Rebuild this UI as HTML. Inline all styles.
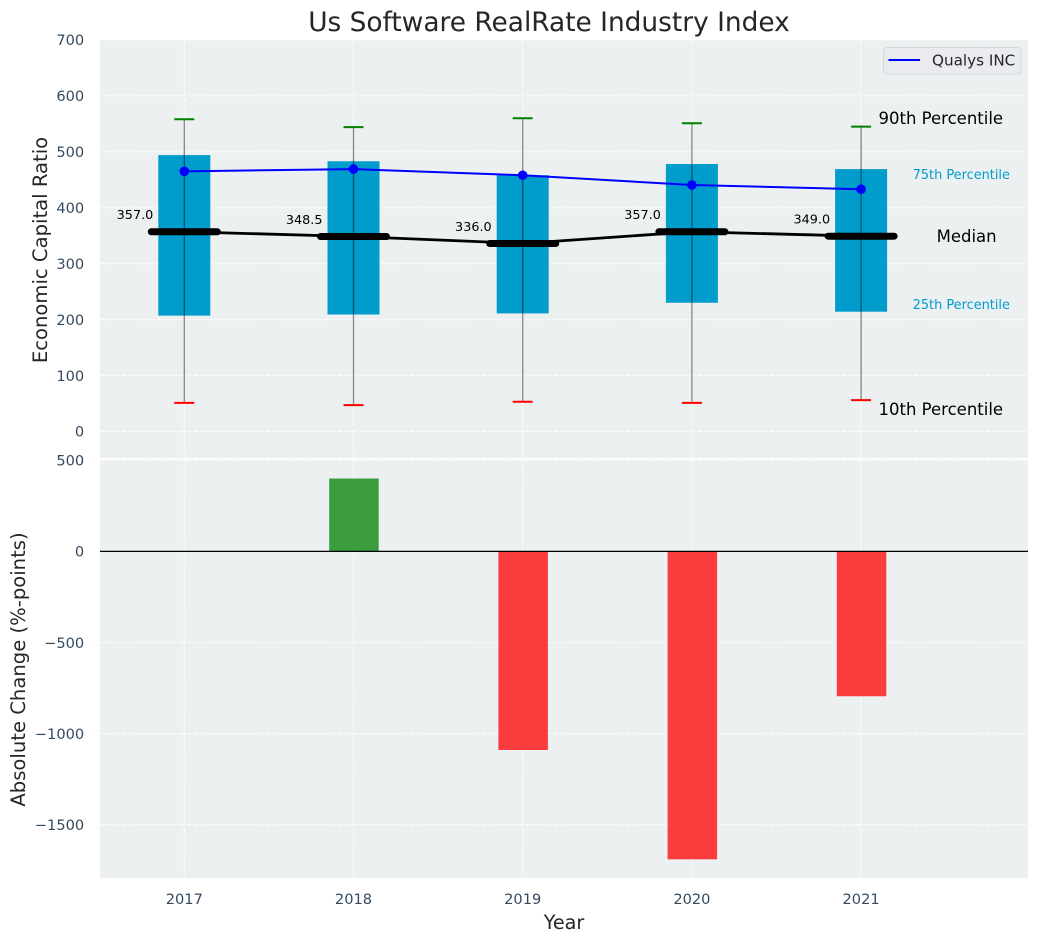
<!DOCTYPE html>
<html lang="en">
<head>
<meta charset="utf-8">
<title>Us Software RealRate Industry Index</title>
<style>
html,body{margin:0;padding:0;background:#fff;}
svg{display:block;font-family:"DejaVu Sans","Liberation Sans",sans-serif;}
</style>
</head>
<body>
<svg id="chart" xmlns="http://www.w3.org/2000/svg" width="1039" height="942" viewBox="0 0 1039 942"></svg>
<script>
const years = [2017, 2018, 2019, 2020, 2021];
const p90 = [558, 544, 560, 551, 545];
const p75 = [494, 483, 458, 478, 469];
const medians = [357, 348.5, 336, 357, 349];
const p25 = [207, 209, 211, 230, 214];
const p10 = [51, 47, 53, 51, 56];
const qualys = [465, 469, 458, 440.5, 433];
const changes = [0, 400, -1090, -1690, -795];
const topTicks = [0, 100, 200, 300, 400, 500, 600, 700];
const bottomTicks = [-1500, -1000, -500, 0, 500];

const svg = document.getElementById('chart');
const NS = 'http://www.w3.org/2000/svg';
function add(tag, attrs, text, parent) {
  const el = document.createElementNS(NS, tag);
  for (const k in attrs) el.setAttribute(k, attrs[k]);
  if (text !== undefined) el.textContent = text;
  (parent || svg).appendChild(el);
  return el;
}
const L = 100, R = 1028, TT = 40, TB = 458, BT = 459.5, BB = 878;
const x = v => 184.3 + (v - 2017) * 169.2;
const yT = v => 431.4 - v * 0.5593;
const yB = v => 551.4 - v * 0.1822;
const tickColor = '#34495e';
const inkColor = '#262626';
const boxColor = '#009ccc';

/* panels */
const topPanel = add('rect', {x: L, y: TT, width: R - L, height: TB - TT, fill: '#ecf0f1'});


const bottomPanel = add('rect', {x: L, y: BT, width: R - L, height: BB - BT, fill: '#ecf0f1'});



/* grid */
const gridStyle = {stroke: '#fff', 'stroke-width': 1.1, 'stroke-dasharray': '5 2.2', opacity: 0.8};
topTicks.forEach(t => {
  const g = add('line', Object.assign({x1: L, x2: R, y1: yT(t), y2: yT(t)}, gridStyle));
  
  
});
bottomTicks.forEach(t => {
  const g = add('line', Object.assign({x1: L, x2: R, y1: yB(t), y2: yB(t)}, gridStyle));
  
  
});
years.forEach(yr => {
  const g1 = add('line', Object.assign({x1: x(yr), x2: x(yr), y1: TT, y2: TB}, gridStyle));
  
  
  const g2 = add('line', Object.assign({x1: x(yr), x2: x(yr), y1: BT, y2: BB}, gridStyle));
  
  
});

/* boxes */
years.forEach((yr, i) => {
  const b = add('rect', {x: x(yr) - 26, y: yT(p75[i]), width: 52, height: yT(p25[i]) - yT(p75[i]), fill: boxColor});
  
  
});

/* median line */
const medLine = add('polyline', {points: years.map((yr, i) => x(yr) + ',' + yT(medians[i])).join(' '), fill: 'none', stroke: '#000', 'stroke-width': 2.8});


years.forEach((yr, i) => {
  const m = add('line', {x1: x(yr) - 33, x2: x(yr) + 33, y1: yT(medians[i]), y2: yT(medians[i]), stroke: '#000', 'stroke-width': 7, 'stroke-linecap': 'round'});
  
  
  const t = add('text', {x: x(yr) - 31, y: yT(medians[i]) - 12.5, 'text-anchor': 'end', 'font-size': 12.8, fill: '#000'}, medians[i].toFixed(1));
  
  
});

/* whiskers */
years.forEach((yr, i) => {
  const w = add('line', {x1: x(yr), x2: x(yr), y1: yT(p90[i]), y2: yT(p10[i]), stroke: '#000', 'stroke-width': 1.3, opacity: 0.45});
  
  
  const c1 = add('line', {x1: x(yr) - 10, x2: x(yr) + 10, y1: yT(p90[i]), y2: yT(p90[i]), stroke: 'green', 'stroke-width': 2});
  
  
  const c2 = add('line', {x1: x(yr) - 10, x2: x(yr) + 10, y1: yT(p10[i]), y2: yT(p10[i]), stroke: 'red', 'stroke-width': 2});
  
  
});

/* Qualys line */
const qLine = add('polyline', {points: years.map((yr, i) => x(yr) + ',' + yT(qualys[i])).join(' '), fill: 'none', stroke: '#0000ff', 'stroke-width': 2});


years.forEach((yr, i) => {
  const p = add('circle', {cx: x(yr), cy: yT(qualys[i]), r: 4.8, fill: '#0000ff'});
  
  
});

/* percentile annotations anchored to the last year */
const last = years.length - 1;
const lx = x(years[last]);
function note(label, cx, cy, size, color, name) {
  const t = add('text', {x: cx, y: cy, 'text-anchor': 'middle', 'dominant-baseline': 'central', 'font-size': size, fill: color}, label);
  
  
}
note('90th Percentile', lx + 79.7, yT(p90[last]) - 8, 16.5, '#000', 'label-90th-percentile');
note('75th Percentile', lx + 100.2, yT(p75[last]) + 6.5, 12.9, boxColor, 'label-75th-percentile');
note('Median', lx + 105.5, yT(medians[last]) + 0.5, 16.5, '#000', 'label-median');
note('25th Percentile', lx + 100.2, yT(p25[last]) - 6, 12.9, boxColor, 'label-25th-percentile');
note('10th Percentile', lx + 79.7, yT(p10[last]) + 9.5, 16.5, '#000', 'label-10th-percentile');

/* change bars */
years.forEach((yr, i) => {
  const v = changes[i];
  if (v === 0) return;
  const b = add('rect', {x: x(yr) - 24.3, y: Math.min(yB(v), yB(0)), width: 49.5, height: Math.abs(yB(v) - yB(0)), fill: v > 0 ? 'green' : 'red', opacity: 0.75});
  
  
});
const zero = add('line', {x1: L, x2: R, y1: yB(0), y2: yB(0), stroke: '#000', 'stroke-width': 1.3});



/* tick labels */
topTicks.forEach(t => {
  const l = add('text', {x: 84.2, y: yT(t) + 0.8, 'text-anchor': 'end', 'dominant-baseline': 'central', 'font-size': 14.6, fill: tickColor}, String(t));
  
  
});
bottomTicks.forEach(t => {
  const s = t < 0 ? '\u2212' + Math.abs(t) : String(t);
  const l = add('text', {x: 84.2, y: yB(t) + 0.8, 'text-anchor': 'end', 'dominant-baseline': 'central', 'font-size': 14.6, fill: tickColor}, s);
  
  
});
years.forEach(yr => {
  const l = add('text', {x: x(yr), y: 904, 'text-anchor': 'middle', 'font-size': 14.6, fill: tickColor}, String(yr));
  
  
});

/* titles */
const title = add('text', {x: 549, y: 31, 'text-anchor': 'middle', 'font-size': 26.4, fill: inkColor}, 'Us Software RealRate Industry Index');


const yt1 = add('text', {transform: 'translate(47,250) rotate(-90)', 'text-anchor': 'middle', 'font-size': 19.6, fill: inkColor}, 'Economic Capital Ratio');


const yt2 = add('text', {transform: 'translate(25,669.5) rotate(-90)', 'text-anchor': 'middle', 'font-size': 19.6, fill: inkColor}, 'Absolute Change (%-points)');


const xt = add('text', {x: 564, y: 929, 'text-anchor': 'middle', 'font-size': 19.2, fill: inkColor}, 'Year');



/* legend */
const legend = add('g', {});


add('rect', {x: 883.5, y: 47.5, width: 137.5, height: 26.5, rx: 3, fill: '#e9ebf0', stroke: '#d5d8dc', 'stroke-width': 1}, undefined, legend);
add('line', {x1: 888.5, x2: 920, y1: 60, y2: 60, stroke: '#0000ff', 'stroke-width': 2}, undefined, legend);
add('text', {x: 932, y: 65.5, 'font-size': 15.2, fill: inkColor}, 'Qualys INC', legend);
</script>
</body>
</html>
